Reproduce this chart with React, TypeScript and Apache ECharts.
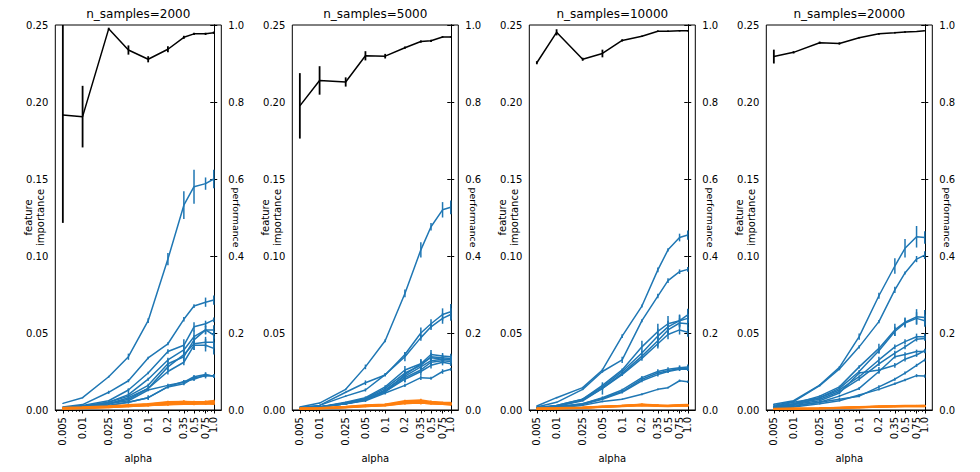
import React, { useEffect, useRef } from "react";
import * as echarts from "echarts";

const alphas = [0.005, 0.01, 0.025, 0.05, 0.1, 0.2, 0.35, 0.5, 0.75, 1.0];
const tickLabels = ["0.005", "0.01", "0.025", "0.05", "0.1", "0.2", "0.35", "0.5", "0.75", "1.0"];
const minorTicks = [0.004, 0.006, 0.007, 0.008, 0.009, 0.02, 0.03, 0.04, 0.06, 0.07, 0.08, 0.09, 0.3, 0.4, 0.6, 0.7, 0.8, 0.9];
const nSamples = [2000, 5000, 10000, 20000];

// performance (right axis)
const perf2000 = [0.766, 0.762, 0.990, 0.935, 0.911, 0.937, 0.968, 0.977, 0.977, 0.980];
const perfErr2000 = [0.28, 0.08, 0.003, 0.012, 0.008, 0.008, 0.004, 0.003, 0.003, 0.003];
const perf5000 = [0.790, 0.856, 0.852, 0.920, 0.919, 0.941, 0.957, 0.959, 0.969, 0.969];
const perfErr5000 = [0.085, 0.037, 0.012, 0.012, 0.006, 0.003, 0.003, 0.003, 0.002, 0.002];
const perf10000 = [0.902, 0.981, 0.911, 0.926, 0.960, 0.971, 0.984, 0.984, 0.985, 0.985];
const perfErr10000 = [0.004, 0.008, 0.004, 0.010, 0.003, 0.002, 0.002, 0.002, 0.002, 0.002];
const perf20000 = [0.918, 0.929, 0.954, 0.952, 0.967, 0.977, 0.980, 0.982, 0.983, 0.985];
const perfErr20000 = [0.018, 0.003, 0.003, 0.003, 0.002, 0.002, 0.002, 0.002, 0.001, 0.001];

// informative features (blue)
const fi2000 = [
  [0.0043, 0.0080, 0.0216, 0.0346, 0.0580, 0.0980, 0.1330, 0.1450, 0.1470, 0.1500],
  [0.0020, 0.0035, 0.0115, 0.0190, 0.0338, 0.0430, 0.0589, 0.0675, 0.0700, 0.0714],
  [0.0015, 0.0030, 0.0060, 0.0130, 0.0240, 0.0380, 0.0420, 0.0540, 0.0560, 0.0585],
  [0.0015, 0.0025, 0.0050, 0.0100, 0.0200, 0.0325, 0.0390, 0.0476, 0.0520, 0.0520],
  [0.0015, 0.0025, 0.0050, 0.0090, 0.0160, 0.0300, 0.0346, 0.0455, 0.0520, 0.0487],
  [0.0010, 0.0025, 0.0040, 0.0080, 0.0140, 0.0280, 0.0360, 0.0430, 0.0440, 0.0440],
  [0.0010, 0.0020, 0.0040, 0.0070, 0.0140, 0.0250, 0.0310, 0.0420, 0.0420, 0.0400],
  [0.0010, 0.0020, 0.0040, 0.0060, 0.0130, 0.0160, 0.0180, 0.0216, 0.0230, 0.0220],
  [0.0010, 0.0020, 0.0030, 0.0050, 0.0080, 0.0150, 0.0170, 0.0210, 0.0220, 0.0222],
  [0.0010, 0.0020, 0.0030, 0.0050, 0.0080, 0.0152, 0.0185, 0.0200, 0.0227, 0.0220],
];
const fiErr2000 = [
  [0.0003, 0.0004, 0.0006, 0.0020, 0.0015, 0.0040, 0.0090, 0.0110, 0.0040, 0.0060],
  [0.0002, 0.0003, 0.0010, 0.0010, 0.0008, 0.0010, 0.0015, 0.0012, 0.0030, 0.0030],
  [0.0002, 0.0003, 0.0005, 0.0008, 0.0008, 0.0015, 0.0040, 0.0030, 0.0020, 0.0015],
  [0.0002, 0.0003, 0.0005, 0.0040, 0.0010, 0.0015, 0.0040, 0.0040, 0.0030, 0.0030],
  [0.0002, 0.0003, 0.0005, 0.0010, 0.0010, 0.0030, 0.0030, 0.0030, 0.0025, 0.0025],
  [0.0002, 0.0003, 0.0005, 0.0010, 0.0010, 0.0020, 0.0030, 0.0040, 0.0035, 0.0040],
  [0.0002, 0.0003, 0.0005, 0.0008, 0.0010, 0.0020, 0.0020, 0.0030, 0.0040, 0.0040],
  [0.0002, 0.0003, 0.0005, 0.0008, 0.0008, 0.0010, 0.0010, 0.0012, 0.0015, 0.0010],
  [0.0002, 0.0003, 0.0005, 0.0008, 0.0008, 0.0010, 0.0010, 0.0012, 0.0015, 0.0010],
  [0.0002, 0.0003, 0.0005, 0.0008, 0.0015, 0.0010, 0.0010, 0.0012, 0.0015, 0.0010],
];
const fi5000 = [
  [0.0020, 0.0045, 0.0134, 0.0280, 0.0450, 0.0757, 0.1040, 0.1190, 0.1300, 0.1316],
  [0.0015, 0.0030, 0.0115, 0.0177, 0.0227, 0.0360, 0.0500, 0.0560, 0.0620, 0.0638],
  [0.0015, 0.0030, 0.0090, 0.0130, 0.0230, 0.0346, 0.0470, 0.0540, 0.0595, 0.0620],
  [0.0010, 0.0020, 0.0050, 0.0080, 0.0150, 0.0260, 0.0300, 0.0360, 0.0350, 0.0345],
  [0.0010, 0.0020, 0.0045, 0.0075, 0.0140, 0.0240, 0.0290, 0.0346, 0.0340, 0.0335],
  [0.0010, 0.0020, 0.0045, 0.0070, 0.0130, 0.0220, 0.0280, 0.0320, 0.0330, 0.0325],
  [0.0010, 0.0020, 0.0040, 0.0070, 0.0120, 0.0210, 0.0260, 0.0310, 0.0320, 0.0315],
  [0.0010, 0.0020, 0.0040, 0.0065, 0.0120, 0.0200, 0.0250, 0.0290, 0.0310, 0.0300],
  [0.0010, 0.0020, 0.0040, 0.0060, 0.0110, 0.0160, 0.0210, 0.0206, 0.0250, 0.0265],
  [0.0010, 0.0020, 0.0040, 0.0065, 0.0120, 0.0230, 0.0300, 0.0340, 0.0330, 0.0330],
];
const fiErr5000 = [
  [0.0002, 0.0003, 0.0005, 0.0015, 0.0010, 0.0025, 0.0050, 0.0025, 0.0050, 0.0045],
  [0.0002, 0.0003, 0.0005, 0.0015, 0.0010, 0.0015, 0.0035, 0.0030, 0.0040, 0.0050],
  [0.0002, 0.0003, 0.0005, 0.0010, 0.0010, 0.0030, 0.0020, 0.0020, 0.0035, 0.0040],
  [0.0002, 0.0003, 0.0005, 0.0008, 0.0010, 0.0025, 0.0030, 0.0030, 0.0020, 0.0020],
  [0.0002, 0.0003, 0.0005, 0.0008, 0.0010, 0.0020, 0.0030, 0.0025, 0.0020, 0.0020],
  [0.0002, 0.0003, 0.0005, 0.0008, 0.0010, 0.0025, 0.0030, 0.0020, 0.0025, 0.0020],
  [0.0002, 0.0003, 0.0005, 0.0008, 0.0010, 0.0030, 0.0020, 0.0025, 0.0020, 0.0020],
  [0.0002, 0.0003, 0.0005, 0.0008, 0.0010, 0.0020, 0.0025, 0.0020, 0.0020, 0.0015],
  [0.0002, 0.0003, 0.0005, 0.0008, 0.0010, 0.0010, 0.0015, 0.0010, 0.0015, 0.0010],
  [0.0002, 0.0003, 0.0005, 0.0008, 0.0010, 0.0020, 0.0030, 0.0020, 0.0020, 0.0020],
];
const fi10000 = [
  [0.0026, 0.0080, 0.0145, 0.0260, 0.0480, 0.0675, 0.0910, 0.1040, 0.1120, 0.1136],
  [0.0020, 0.0050, 0.0134, 0.0250, 0.0325, 0.0580, 0.0740, 0.0840, 0.0898, 0.0913],
  [0.0015, 0.0030, 0.0070, 0.0160, 0.0260, 0.0410, 0.0510, 0.0560, 0.0580, 0.0617],
  [0.0015, 0.0030, 0.0070, 0.0150, 0.0250, 0.0370, 0.0480, 0.0540, 0.0580, 0.0595],
  [0.0015, 0.0025, 0.0065, 0.0140, 0.0238, 0.0350, 0.0450, 0.0520, 0.0565, 0.0560],
  [0.0015, 0.0025, 0.0060, 0.0140, 0.0230, 0.0335, 0.0430, 0.0490, 0.0520, 0.0505],
  [0.0010, 0.0020, 0.0040, 0.0080, 0.0130, 0.0210, 0.0250, 0.0265, 0.0275, 0.0280],
  [0.0010, 0.0020, 0.0040, 0.0075, 0.0120, 0.0200, 0.0240, 0.0255, 0.0270, 0.0270],
  [0.0010, 0.0020, 0.0035, 0.0070, 0.0115, 0.0190, 0.0230, 0.0250, 0.0265, 0.0265],
  [0.0010, 0.0015, 0.0030, 0.0055, 0.0070, 0.0102, 0.0134, 0.0145, 0.0190, 0.0184],
];
const fiErr10000 = [
  [0.0003, 0.0005, 0.0005, 0.0008, 0.0012, 0.0010, 0.0015, 0.0010, 0.0025, 0.0030],
  [0.0002, 0.0004, 0.0005, 0.0008, 0.0020, 0.0010, 0.0015, 0.0015, 0.0015, 0.0015],
  [0.0002, 0.0003, 0.0005, 0.0010, 0.0010, 0.0040, 0.0050, 0.0050, 0.0040, 0.0040],
  [0.0002, 0.0003, 0.0005, 0.0010, 0.0010, 0.0015, 0.0050, 0.0040, 0.0035, 0.0030],
  [0.0002, 0.0003, 0.0005, 0.0040, 0.0010, 0.0015, 0.0040, 0.0030, 0.0030, 0.0030],
  [0.0002, 0.0003, 0.0005, 0.0010, 0.0010, 0.0015, 0.0030, 0.0030, 0.0030, 0.0030],
  [0.0002, 0.0003, 0.0005, 0.0008, 0.0008, 0.0010, 0.0015, 0.0012, 0.0015, 0.0015],
  [0.0002, 0.0003, 0.0005, 0.0008, 0.0008, 0.0010, 0.0015, 0.0012, 0.0015, 0.0015],
  [0.0002, 0.0003, 0.0005, 0.0008, 0.0008, 0.0010, 0.0012, 0.0010, 0.0012, 0.0012],
  [0.0002, 0.0003, 0.0004, 0.0005, 0.0005, 0.0006, 0.0006, 0.0006, 0.0008, 0.0008],
];
const fi20000 = [
  [0.0037, 0.0060, 0.0162, 0.0277, 0.0476, 0.0742, 0.0935, 0.1050, 0.1125, 0.1120],
  [0.0030, 0.0055, 0.0158, 0.0266, 0.0410, 0.0574, 0.0780, 0.0890, 0.0980, 0.1006],
  [0.0020, 0.0040, 0.0090, 0.0150, 0.0280, 0.0400, 0.0520, 0.0570, 0.0605, 0.0600],
  [0.0020, 0.0035, 0.0080, 0.0140, 0.0250, 0.0385, 0.0510, 0.0565, 0.0595, 0.0580],
  [0.0025, 0.0050, 0.0080, 0.0130, 0.0216, 0.0325, 0.0410, 0.0444, 0.0476, 0.0476],
  [0.0020, 0.0040, 0.0070, 0.0120, 0.0200, 0.0300, 0.0370, 0.0410, 0.0460, 0.0465],
  [0.0020, 0.0035, 0.0060, 0.0110, 0.0240, 0.0260, 0.0290, 0.0330, 0.0357, 0.0385],
  [0.0015, 0.0030, 0.0050, 0.0090, 0.0140, 0.0250, 0.0346, 0.0360, 0.0380, 0.0380],
  [0.0015, 0.0025, 0.0050, 0.0070, 0.0090, 0.0150, 0.0200, 0.0240, 0.0290, 0.0325],
  [0.0010, 0.0020, 0.0040, 0.0060, 0.0097, 0.0134, 0.0170, 0.0195, 0.0223, 0.0220],
];
const fiErr20000 = [
  [0.0004, 0.0004, 0.0005, 0.0008, 0.0020, 0.0020, 0.0050, 0.0060, 0.0070, 0.0040],
  [0.0003, 0.0004, 0.0005, 0.0008, 0.0010, 0.0010, 0.0020, 0.0010, 0.0020, 0.0025],
  [0.0002, 0.0003, 0.0005, 0.0008, 0.0010, 0.0030, 0.0040, 0.0030, 0.0050, 0.0050],
  [0.0002, 0.0003, 0.0005, 0.0008, 0.0010, 0.0020, 0.0030, 0.0030, 0.0040, 0.0040],
  [0.0002, 0.0003, 0.0005, 0.0008, 0.0010, 0.0020, 0.0015, 0.0015, 0.0020, 0.0020],
  [0.0002, 0.0003, 0.0005, 0.0008, 0.0010, 0.0015, 0.0015, 0.0015, 0.0015, 0.0015],
  [0.0002, 0.0003, 0.0005, 0.0008, 0.0010, 0.0020, 0.0015, 0.0015, 0.0012, 0.0012],
  [0.0002, 0.0003, 0.0005, 0.0008, 0.0010, 0.0015, 0.0012, 0.0015, 0.0012, 0.0012],
  [0.0002, 0.0003, 0.0005, 0.0008, 0.0008, 0.0010, 0.0010, 0.0010, 0.0010, 0.0010],
  [0.0002, 0.0003, 0.0004, 0.0005, 0.0006, 0.0008, 0.0008, 0.0008, 0.0010, 0.0010],
];

// noise features (orange)
const noise2000 = [
  [0.0010, 0.0015, 0.0020, 0.0028, 0.0035, 0.0045, 0.0050, 0.0046, 0.0048, 0.0052],
  [0.0012, 0.0016, 0.0022, 0.0030, 0.0038, 0.0042, 0.0046, 0.0048, 0.0045, 0.0050],
  [0.0006, 0.0010, 0.0016, 0.0023, 0.0030, 0.0036, 0.0040, 0.0040, 0.0042, 0.0040],
  [0.0016, 0.0020, 0.0026, 0.0034, 0.0040, 0.0054, 0.0055, 0.0054, 0.0056, 0.0060],
  [0.0010, 0.0014, 0.0020, 0.0026, 0.0030, 0.0038, 0.0040, 0.0044, 0.0042, 0.0046],
  [0.0013, 0.0017, 0.0021, 0.0029, 0.0034, 0.0043, 0.0047, 0.0045, 0.0050, 0.0048],
  [0.0007, 0.0011, 0.0017, 0.0022, 0.0029, 0.0034, 0.0038, 0.0037, 0.0040, 0.0038],
  [0.0011, 0.0015, 0.0023, 0.0027, 0.0037, 0.0050, 0.0056, 0.0050, 0.0052, 0.0058],
];
const noiseErr2000 = [0.0003, 0.0003, 0.0004, 0.0004, 0.0005, 0.0006, 0.0006, 0.0006, 0.0006, 0.0006];
const noise5000 = [
  [0.0008, 0.0010, 0.0018, 0.0026, 0.0032, 0.0050, 0.0052, 0.0046, 0.0042, 0.0040],
  [0.0010, 0.0012, 0.0020, 0.0028, 0.0034, 0.0055, 0.0058, 0.0050, 0.0045, 0.0044],
  [0.0005, 0.0008, 0.0015, 0.0022, 0.0028, 0.0042, 0.0045, 0.0040, 0.0037, 0.0033],
  [0.0013, 0.0015, 0.0023, 0.0032, 0.0038, 0.0060, 0.0065, 0.0056, 0.0050, 0.0048],
  [0.0009, 0.0011, 0.0019, 0.0025, 0.0031, 0.0048, 0.0050, 0.0045, 0.0043, 0.0038],
  [0.0007, 0.0010, 0.0017, 0.0027, 0.0033, 0.0052, 0.0055, 0.0048, 0.0044, 0.0042],
  [0.0011, 0.0013, 0.0021, 0.0029, 0.0035, 0.0046, 0.0050, 0.0044, 0.0041, 0.0039],
  [0.0008, 0.0011, 0.0018, 0.0023, 0.0029, 0.0043, 0.0046, 0.0040, 0.0038, 0.0035],
];
const noiseErr5000 = [0.0002, 0.0003, 0.0003, 0.0004, 0.0004, 0.0006, 0.0008, 0.0005, 0.0004, 0.0004];
const noise10000 = [
  [0.0008, 0.0010, 0.0014, 0.0020, 0.0026, 0.0032, 0.0028, 0.0026, 0.0030, 0.0030],
  [0.0010, 0.0012, 0.0016, 0.0022, 0.0028, 0.0036, 0.0030, 0.0028, 0.0032, 0.0033],
  [0.0006, 0.0008, 0.0012, 0.0018, 0.0024, 0.0030, 0.0026, 0.0024, 0.0027, 0.0027],
  [0.0012, 0.0014, 0.0018, 0.0024, 0.0030, 0.0038, 0.0033, 0.0030, 0.0034, 0.0035],
  [0.0009, 0.0011, 0.0015, 0.0021, 0.0027, 0.0034, 0.0029, 0.0027, 0.0029, 0.0029],
  [0.0007, 0.0009, 0.0013, 0.0019, 0.0025, 0.0031, 0.0027, 0.0025, 0.0028, 0.0028],
  [0.0011, 0.0013, 0.0017, 0.0023, 0.0029, 0.0035, 0.0031, 0.0029, 0.0031, 0.0032],
  [0.0008, 0.0010, 0.0014, 0.0019, 0.0023, 0.0029, 0.0025, 0.0023, 0.0026, 0.0026],
];
const noiseErr10000 = [0.0002, 0.0002, 0.0003, 0.0003, 0.0004, 0.0004, 0.0004, 0.0003, 0.0003, 0.0003];
const noise20000 = [
  [0.0006, 0.0008, 0.0010, 0.0014, 0.0018, 0.0022, 0.0024, 0.0025, 0.0026, 0.0026],
  [0.0008, 0.0010, 0.0012, 0.0016, 0.0020, 0.0024, 0.0026, 0.0027, 0.0028, 0.0028],
  [0.0005, 0.0007, 0.0009, 0.0012, 0.0016, 0.0020, 0.0022, 0.0023, 0.0024, 0.0023],
  [0.0009, 0.0011, 0.0013, 0.0017, 0.0021, 0.0025, 0.0027, 0.0029, 0.0030, 0.0030],
  [0.0007, 0.0009, 0.0011, 0.0015, 0.0019, 0.0023, 0.0025, 0.0026, 0.0027, 0.0027],
  [0.0006, 0.0008, 0.0010, 0.0013, 0.0017, 0.0021, 0.0023, 0.0024, 0.0025, 0.0025],
  [0.0008, 0.0009, 0.0012, 0.0015, 0.0019, 0.0023, 0.0025, 0.0026, 0.0028, 0.0029],
  [0.0005, 0.0007, 0.0010, 0.0012, 0.0015, 0.0019, 0.0021, 0.0022, 0.0023, 0.0022],
];
const noiseErr20000 = [0.0002, 0.0002, 0.0002, 0.0002, 0.0003, 0.0003, 0.0003, 0.0003, 0.0003, 0.0003];

const panels = [
  { n: nSamples[0], fi: fi2000, fiErr: fiErr2000, noise: noise2000, noiseErr: noiseErr2000, perf: perf2000, perfErr: perfErr2000 },
  { n: nSamples[1], fi: fi5000, fiErr: fiErr5000, noise: noise5000, noiseErr: noiseErr5000, perf: perf5000, perfErr: perfErr5000 },
  { n: nSamples[2], fi: fi10000, fiErr: fiErr10000, noise: noise10000, noiseErr: noiseErr10000, perf: perf10000, perfErr: perfErr10000 },
  { n: nSamples[3], fi: fi20000, fiErr: fiErr20000, noise: noise20000, noiseErr: noiseErr20000, perf: perf20000, perfErr: perfErr20000 },
];

const BLUE = "#1f77b4";
const ORANGE = "#ff7f0e";
const BLACK = "#000000";
const FONT = "DejaVu Sans";

const GRID_LEFT0 = 55.3;
const GRID_STEP = 237;
const GRID_W = 166;
const GRID_TOP = 25;
const GRID_H = 385;

const lg = (v: number) => Math.log10(v);
const LOG_LO = lg(alphas[0]);
const LOG_HI = lg(alphas[alphas.length - 1]);
const PAD = 0.05 * (LOG_HI - LOG_LO);
const X_MIN = LOG_LO - PAD;
const X_MAX = LOG_HI + PAD;
const majorLog = alphas.map(lg);
const minorLog = minorTicks.map(lg);
// labels split over two axes so that neighbouring rotated labels never get auto-hidden
const labelsA = majorLog.filter((_, k) => k % 2 === 0);
const labelsB = majorLog.filter((_, k) => k % 2 === 1);

const fmtX = (v: number) => {
  const k = majorLog.findIndex((m) => Math.abs(m - v) < 1e-6);
  return k >= 0 ? tickLabels[k] : "";
};

function errRender(color: string, width: number) {
  return (params: any, api: any) => {
    const x = api.value(0);
    const lo = api.value(1);
    const hi = api.value(2);
    const p1 = api.coord([x, lo]);
    const p2 = api.coord([x, hi]);
    const cs = params.coordSys;
    const top = cs.y;
    const bot = cs.y + cs.height;
    const y1 = Math.min(bot, Math.max(top, p1[1]));
    const y2 = Math.min(bot, Math.max(top, p2[1]));
    return {
      type: "line",
      shape: { x1: p1[0], y1, x2: p2[0], y2 },
      style: { stroke: color, lineWidth: width },
    };
  };
}

const xLabelStyle = {
  show: true,
  rotate: 90,
  margin: 7,
  fontSize: 10,
  fontFamily: FONT,
  color: BLACK,
  hideOverlap: false,
  formatter: fmtX,
};

function buildOption() {
  const grid: any[] = [];
  const xAxis: any[] = [];
  const yAxis: any[] = [];
  const series: any[] = [];
  const graphic: any[] = [];

  panels.forEach((p, i) => {
    const left = GRID_LEFT0 + GRID_STEP * i;
    grid.push({
      left,
      top: GRID_TOP,
      width: GRID_W,
      height: GRID_H,
      show: true,
      borderColor: BLACK,
      borderWidth: 1,
      backgroundColor: "transparent",
    });
    xAxis.push({
      gridIndex: i,
      type: "value",
      position: "bottom",
      offset: 0,
      min: X_MIN,
      max: X_MAX,
      splitLine: { show: false },
      axisLine: { show: true, lineStyle: { color: BLACK, width: 1 } },
      axisTick: { show: true, customValues: majorLog, length: 3.5, lineStyle: { color: BLACK, width: 1 } },
      axisLabel: { ...xLabelStyle, customValues: labelsA },
      name: "alpha",
      nameLocation: "middle",
      nameGap: 42,
      nameTextStyle: { fontSize: 10, fontFamily: FONT, color: BLACK },
    });
    yAxis.push({
      gridIndex: i,
      type: "value",
      position: "left",
      min: 0,
      max: 0.25,
      interval: 0.05,
      splitLine: { show: false },
      axisLine: { show: true, lineStyle: { color: BLACK, width: 1 } },
      axisTick: { show: true, length: 3.5, lineStyle: { color: BLACK, width: 1 } },
      axisLabel: {
        margin: 7,
        showMinLabel: true,
        showMaxLabel: true,
        fontSize: 10,
        fontFamily: FONT,
        color: BLACK,
        formatter: (v: number) => v.toFixed(2),
      },
    });
    yAxis.push({
      gridIndex: i,
      type: "value",
      position: "right",
      min: 0,
      max: 1,
      interval: 0.2,
      splitLine: { show: false },
      axisLine: { show: true, lineStyle: { color: BLACK, width: 1 } },
      axisTick: { show: true, length: 3.5, lineStyle: { color: BLACK, width: 1 } },
      axisLabel: {
        margin: 7,
        showMinLabel: true,
        showMaxLabel: true,
        fontSize: 10,
        fontFamily: FONT,
        color: BLACK,
        formatter: (v: number) => v.toFixed(1),
      },
    });

    const leftY = 2 * i;
    const rightY = 2 * i + 1;

    // blue informative features
    p.fi.forEach((vals, k) => {
      series.push({
        type: "line",
        xAxisIndex: i,
        yAxisIndex: leftY,
        data: alphas.map((a, j) => [lg(a), vals[j]]),
        showSymbol: false,
        symbol: "none",
        lineStyle: { color: BLUE, width: 1.5 },
        itemStyle: { color: BLUE },
        z: 2,
        silent: true,
      });
      series.push({
        type: "custom",
        xAxisIndex: i,
        yAxisIndex: leftY,
        renderItem: errRender(BLUE, 1.5),
        data: alphas.map((a, j) => [lg(a), vals[j] - p.fiErr[k][j], vals[j] + p.fiErr[k][j]]),
        z: 2,
        silent: true,
      });
    });
    // orange noise features
    p.noise.forEach((vals) => {
      series.push({
        type: "line",
        xAxisIndex: i,
        yAxisIndex: leftY,
        data: alphas.map((a, j) => [lg(a), vals[j]]),
        showSymbol: false,
        symbol: "none",
        lineStyle: { color: ORANGE, width: 1.5 },
        itemStyle: { color: ORANGE },
        z: 3,
        silent: true,
      });
      series.push({
        type: "custom",
        xAxisIndex: i,
        yAxisIndex: leftY,
        renderItem: errRender(ORANGE, 1.5),
        data: alphas.map((a, j) => [lg(a), vals[j] - p.noiseErr[j], vals[j] + p.noiseErr[j]]),
        z: 3,
        silent: true,
      });
    });
    // black performance
    series.push({
      type: "line",
      xAxisIndex: i,
      yAxisIndex: rightY,
      data: alphas.map((a, j) => [lg(a), p.perf[j]]),
      showSymbol: false,
      symbol: "none",
      lineStyle: { color: BLACK, width: 1.5 },
      itemStyle: { color: BLACK },
      z: 4,
      silent: true,
    });
    series.push({
      type: "custom",
      xAxisIndex: i,
      yAxisIndex: rightY,
      renderItem: errRender(BLACK, 1.8),
      data: alphas.map((a, j) => [lg(a), p.perf[j] - p.perfErr[j], p.perf[j] + p.perfErr[j]]),
      z: 4,
      silent: true,
    });

    // texts
    graphic.push({
      type: "text",
      x: left + GRID_W / 2,
      y: 13.5,
      style: {
        text: "n_samples=" + p.n,
        fontSize: 12,
        fontFamily: FONT,
        fill: BLACK,
        align: "center",
        verticalAlign: "middle",
        textAlign: "center",
        textVerticalAlign: "middle",
      },
    });
    graphic.push({
      type: "text",
      x: left - 20.8,
      y: GRID_TOP + GRID_H / 2,
      rotation: Math.PI / 2,
      style: {
        text: "feature\nimportance",
        fontSize: 10,
        lineHeight: 12,
        fontFamily: FONT,
        fill: BLACK,
        align: "center",
        verticalAlign: "middle",
        textAlign: "center",
        textVerticalAlign: "middle",
      },
    });
    graphic.push({
      type: "text",
      x: left + GRID_W + 15.5,
      y: GRID_TOP + GRID_H / 2,
      rotation: -Math.PI / 2,
      style: {
        text: "performance",
        fontSize: 9.4,
        fontFamily: FONT,
        fill: BLACK,
        align: "center",
        verticalAlign: "middle",
        textAlign: "center",
        textVerticalAlign: "middle",
      },
    });
  });

  // secondary x axes (also at the bottom): minor ticks + the other half of the major labels
  panels.forEach((_, i) => {
    xAxis.push({
      gridIndex: i,
      type: "value",
      position: "bottom",
      offset: 0,
      min: X_MIN,
      max: X_MAX,
      splitLine: { show: false },
      axisLine: { show: false },
      axisTick: { show: true, customValues: minorLog, length: 2, lineStyle: { color: BLACK, width: 0.8 } },
      axisLabel: { ...xLabelStyle, customValues: labelsB },
    });
  });

  return {
    animation: false,
    backgroundColor: "#ffffff",
    grid,
    xAxis,
    yAxis,
    series,
    graphic,
  };
}

export default function App() {
  const ref = useRef<HTMLDivElement>(null);
  useEffect(() => {
    if (!ref.current) return;
    const chart = echarts.init(ref.current, undefined, { renderer: "svg" });
    chart.setOption(buildOption() as any);
    return () => chart.dispose();
  }, []);
  return (
    <div
      ref={ref}
      style={{ position: "absolute", left: 0, top: 0, width: 980, height: 472 }}
    />
  );
}
